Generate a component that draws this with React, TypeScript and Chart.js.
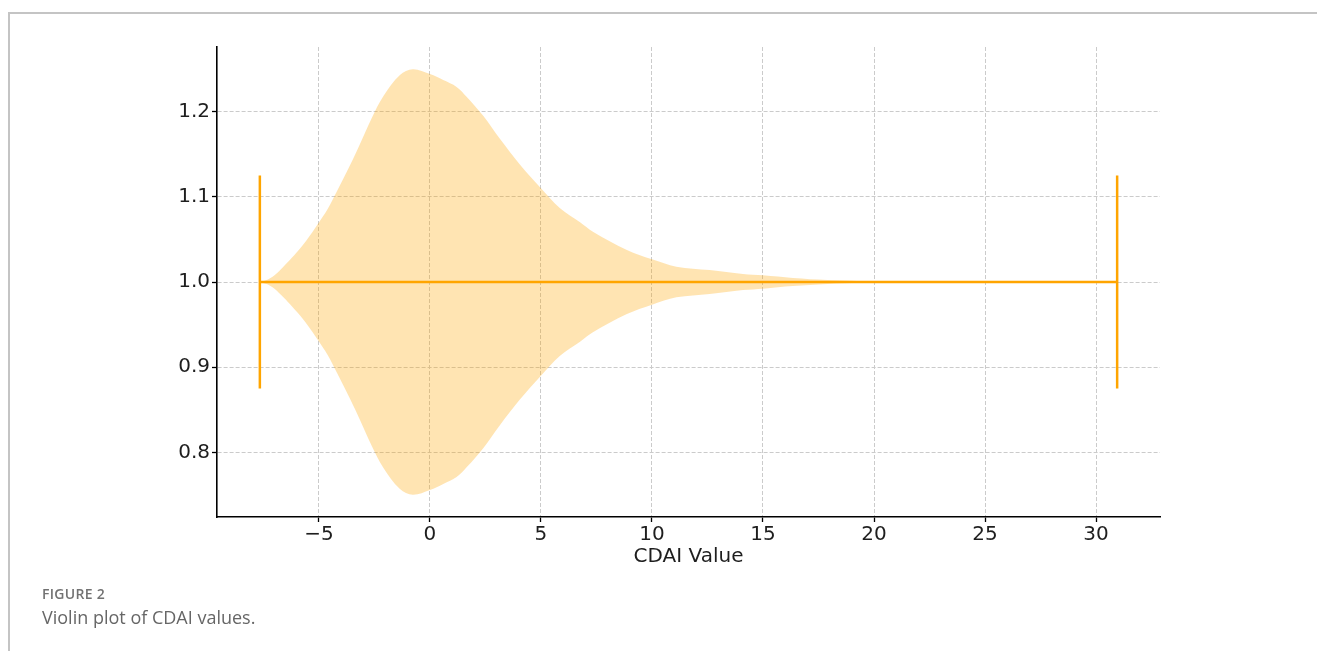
import React, { useEffect, useRef } from "react";
import { Chart, registerables } from "chart.js";

Chart.register(...registerables);

// Violin profile: CDAI values and kernel-density half width (in y units)
const cdaiX = [-7.66, -7.3, -7.0, -6.6, -6.2, -5.86, -5.5, -5.1, -4.6, -4.2, -3.6, -3.15, -2.63, -2.1, -1.35, -0.77, 0, 0.6, 1.2, 1.65, 2.4, 3.15, 4.05, 5.0, 5.86, 6.76, 7.34, 8.87, 10.0, 11.1, 12.6, 14.1, 15.0, 16.35, 17.9, 19.4, 20.5];
const halfWidth = [0, 0.003, 0.008, 0.018, 0.029, 0.039, 0.051, 0.066, 0.086, 0.106, 0.137, 0.162, 0.192, 0.218, 0.243, 0.2496, 0.244, 0.237, 0.229, 0.2175, 0.195, 0.168, 0.138, 0.11, 0.0865, 0.07, 0.059, 0.0376, 0.0266, 0.018, 0.014, 0.0094, 0.0078, 0.0047, 0.0023, 0.001, 0];

const rangeMin = -7.66;
const rangeMax = 30.95;
const center = 1.0;
const capHalf = 0.125;

const xTicks = [-5, 0, 5, 10, 15, 20, 25, 30];
const yTicks = [0.8, 0.9, 1.0, 1.1, 1.2];
const xLimits = [-9.59, 32.88];
const yLimits = [0.7242, 1.2758];

const ORANGE = "#FFA500";
const FILL = "rgba(255,165,0,0.3)";
const GRID = "#cbcbcb";
const TEXT = "#1e1e1e";
const FONT = "'DejaVu Sans', sans-serif";

export default function App() {
  const ref = useRef<HTMLCanvasElement>(null);

  useEffect(() => {
    const upper = cdaiX.map((x, i) => ({ x, y: center + halfWidth[i] }));
    const lower = cdaiX.map((x, i) => ({ x, y: center - halfWidth[i] }));
    const lineBase = { showLine: true, pointRadius: 0, pointHoverRadius: 0 };

    const chart = new Chart(ref.current as HTMLCanvasElement, {
      type: "line",
      data: {
        datasets: [
          { ...lineBase, data: upper, borderWidth: 0, borderColor: "transparent", fill: false, tension: 0.35, order: 5 } as any,
          { ...lineBase, data: lower, borderWidth: 0, borderColor: "transparent", backgroundColor: FILL, fill: "-1", tension: 0.35, order: 4 } as any,
          { ...lineBase, data: [{ x: rangeMin, y: center }, { x: rangeMax, y: center }], borderColor: ORANGE, borderWidth: 2.5, fill: false, order: 1 },
          { ...lineBase, data: [{ x: rangeMin, y: center - capHalf }, { x: rangeMin, y: center + capHalf }], borderColor: ORANGE, borderWidth: 2.5, fill: false, order: 1 },
          { ...lineBase, data: [{ x: rangeMax, y: center - capHalf }, { x: rangeMax, y: center + capHalf }], borderColor: ORANGE, borderWidth: 2.5, fill: false, order: 1 },
        ],
      },
      options: {
        animation: false,
        responsive: false,
        maintainAspectRatio: false,
        parsing: false as any,
        plugins: { legend: { display: false }, tooltip: { enabled: false } },
        layout: { padding: { left: 0, right: 157, top: 47, bottom: 82 } },
        scales: {
          x: {
            type: "linear",
            min: xLimits[0],
            max: xLimits[1],
            afterBuildTicks: (s: any) => {
              s.ticks = xTicks.map((v) => ({ value: v }));
            },
            afterFit: (s: any) => {
              s.height = 52;
            },
            grid: { color: GRID, lineWidth: 1, drawTicks: true, tickLength: 5, tickColor: "#000", tickWidth: 1.3, tickBorderDash: [] },
            border: { display: true, color: "#000", width: 1.6, dash: [4, 2] },
            ticks: {
              autoSkip: false,
              maxRotation: 0,
              padding: 1,
              color: TEXT,
              font: { family: FONT, size: 20 },
              callback: (v: any) => (v < 0 ? "\u2212" + Math.abs(v) : String(v)),
            },
            title: { display: true, text: "CDAI Value", color: TEXT, font: { family: FONT, size: 20 }, padding: 0 },
          },
          y: {
            type: "linear",
            min: yLimits[0],
            max: yLimits[1],
            afterBuildTicks: (s: any) => {
              s.ticks = yTicks.map((v) => ({ value: v }));
            },
            afterFit: (s: any) => {
              s.width = 217;
            },
            grid: { color: GRID, lineWidth: 1, drawTicks: true, tickLength: 5, tickColor: "#000", tickWidth: 1.3, tickBorderDash: [] },
            border: { display: true, color: "#000", width: 1.6, dash: [4, 2] },
            ticks: {
              autoSkip: false,
              padding: 2,
              color: TEXT,
              font: { family: FONT, size: 20 },
              callback: (v: any) => Number(v).toFixed(1),
            },
          },
        },
      },
    });
    return () => chart.destroy();
  }, []);

  return (
    <div style={{ position: "fixed", left: 0, top: 0, width: 1317, height: 651, background: "#fff", overflow: "hidden" }}>
      <div style={{ position: "absolute", left: 8, top: 12, right: 0, bottom: 0, borderTop: "2px solid #c4c4c4", borderLeft: "2px solid #c4c4c4" }} />
      <canvas ref={ref} width={1317} height={651} style={{ position: "absolute", left: 0, top: 0, width: 1317, height: 651 }} />
      <div style={{ position: "absolute", left: 42, top: 584, fontFamily: "'Open Sans', sans-serif", fontSize: 14, fontWeight: 600, color: "#727272", letterSpacing: 0.3, lineHeight: "20px" }}>FIGURE 2</div>
      <div style={{ position: "absolute", left: 42, top: 604, fontFamily: "'Open Sans', sans-serif", fontSize: 18, color: "#666", lineHeight: "26px" }}>Violin plot of CDAI values.</div>
    </div>
  );
}
